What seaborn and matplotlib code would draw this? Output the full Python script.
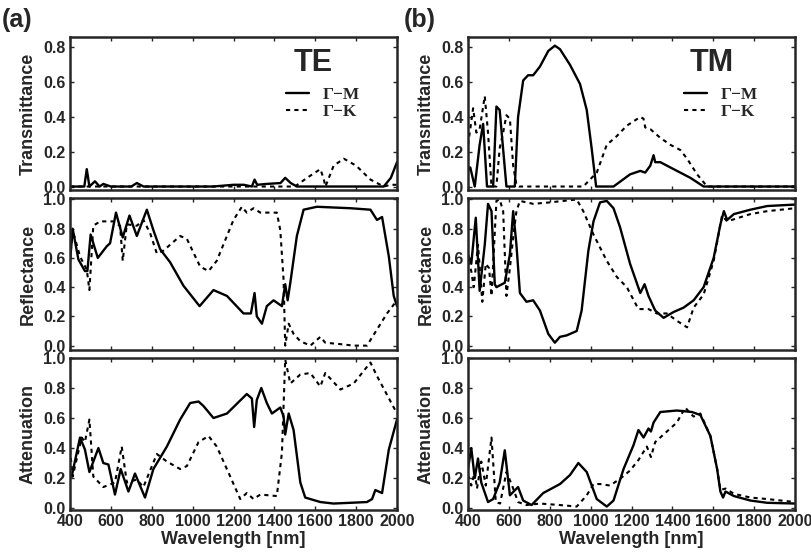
import numpy as np
import pandas as pd
import matplotlib
matplotlib.use("Agg")
import matplotlib.pyplot as plt
import seaborn as sns
from matplotlib.lines import Line2D

# ---------------- data ----------------
# TE, Transmittance
te_T_M_x = [400, 470, 482, 495, 522, 545, 563, 600, 700, 727, 760, 1100, 1200, 1250, 1290, 1303, 1316, 1363, 1430, 1453, 1480, 1510, 1935, 1970, 2000]
te_T_M_y = [0.0, 0.0, 0.10, 0.0, 0.03, 0.0, 0.015, 0.0, 0.0, 0.02, 0.0, 0.0, 0.01, 0.01, 0.0, 0.04, 0.01, 0.015, 0.02, 0.05, 0.02, 0.0, 0.0, 0.05, 0.14]
te_T_K_x = [400, 1500, 1560, 1625, 1640, 1650, 1690, 1740, 1800, 1870, 1935, 1970, 2000]
te_T_K_y = [0.0, 0.0, 0.05, 0.10, 0.05, 0.0, 0.12, 0.16, 0.12, 0.04, 0.0, 0.01, 0.01]

# TE, Reflectance
te_R_M_x = [400, 413, 441, 473, 485, 501, 536, 580, 596, 625, 658, 691, 727, 776, 808, 841, 890, 955, 1034, 1102, 1168, 1249, 1285, 1303, 1314, 1339, 1363, 1396, 1437, 1453, 1465, 1478, 1510, 1543, 1608, 1772, 1870, 1902, 1927, 1960, 1984, 2000]
te_R_M_y = [0.57, 0.80, 0.59, 0.51, 0.51, 0.76, 0.60, 0.68, 0.70, 0.91, 0.74, 0.89, 0.75, 0.93, 0.79, 0.66, 0.57, 0.41, 0.27, 0.38, 0.34, 0.22, 0.22, 0.36, 0.20, 0.15, 0.27, 0.31, 0.27, 0.42, 0.31, 0.43, 0.75, 0.93, 0.95, 0.94, 0.93, 0.86, 0.88, 0.61, 0.34, 0.27]
te_R_K_x = [400, 413, 449, 482, 495, 514, 547, 612, 645, 658, 678, 727, 759, 792, 825, 857, 939, 972, 1037, 1078, 1118, 1200, 1241, 1265, 1298, 1331, 1412, 1429, 1445, 1453, 1470, 1494, 1527, 1576, 1625, 1649, 1723, 1788, 1853, 1902, 1951, 2000]
te_R_K_y = [0.59, 0.79, 0.61, 0.52, 0.38, 0.82, 0.85, 0.85, 0.82, 0.58, 0.83, 0.82, 0.86, 0.77, 0.63, 0.65, 0.75, 0.73, 0.54, 0.51, 0.58, 0.86, 0.95, 0.91, 0.94, 0.91, 0.91, 0.79, 0.45, 0.0, 0.15, 0.08, 0.03, 0.0, 0.06, 0.02, 0.01, 0.0, 0.0, 0.11, 0.22, 0.31]

# TE, Attenuation
te_A_M_x = [400, 408, 449, 473, 495, 539, 563, 588, 620, 648, 686, 718, 767, 808, 874, 939, 988, 1029, 1053, 1102, 1168, 1265, 1290, 1301, 1314, 1336, 1363, 1388, 1429, 1445, 1453, 1470, 1494, 1527, 1551, 1625, 1690, 1853, 1878, 1894, 1927, 1960, 2000]
te_A_M_y = [0.23, 0.21, 0.47, 0.39, 0.24, 0.40, 0.30, 0.29, 0.09, 0.26, 0.11, 0.23, 0.07, 0.26, 0.41, 0.59, 0.70, 0.71, 0.68, 0.60, 0.63, 0.76, 0.73, 0.54, 0.72, 0.80, 0.70, 0.63, 0.67, 0.61, 0.49, 0.63, 0.52, 0.17, 0.07, 0.04, 0.03, 0.04, 0.06, 0.12, 0.10, 0.39, 0.59]
te_A_K_x = [400, 413, 457, 473, 495, 514, 563, 620, 653, 678, 727, 759, 825, 874, 939, 972, 1029, 1078, 1118, 1184, 1233, 1265, 1298, 1331, 1412, 1437, 1453, 1478, 1527, 1576, 1625, 1649, 1723, 1788, 1870, 1902, 2000]
te_A_K_y = [0.39, 0.21, 0.47, 0.44, 0.59, 0.21, 0.14, 0.17, 0.41, 0.17, 0.19, 0.14, 0.36, 0.31, 0.26, 0.28, 0.44, 0.48, 0.41, 0.21, 0.06, 0.10, 0.06, 0.09, 0.08, 0.37, 0.99, 0.83, 0.89, 0.90, 0.81, 0.90, 0.79, 0.83, 0.97, 0.88, 0.63]

# TM, Transmittance
tm_T_M_x = [400, 411, 433, 457, 474, 493, 523, 539, 555, 588, 629, 645, 670, 694, 719, 752, 793, 825, 850, 899, 948, 981, 1005, 1027, 1112, 1193, 1243, 1267, 1292, 1308, 1316, 1341, 1406, 1488, 1553, 2000]
tm_T_M_y = [0.09, 0.11, 0.0, 0.24, 0.36, 0.0, 0.0, 0.46, 0.44, 0.0, 0.0, 0.40, 0.61, 0.64, 0.64, 0.69, 0.78, 0.81, 0.79, 0.70, 0.59, 0.44, 0.22, 0.0, 0.0, 0.07, 0.09, 0.08, 0.12, 0.18, 0.14, 0.14, 0.10, 0.05, 0.0, 0.0]
tm_T_K_x = [400, 411, 425, 441, 457, 482, 498, 515, 539, 555, 572, 588, 605, 621, 637, 650, 964, 997, 1030, 1079, 1128, 1177, 1243, 1259, 1267, 1292, 1341, 1390, 1439, 1472, 1521, 1570, 2000]
tm_T_K_y = [0.24, 0.33, 0.45, 0.31, 0.33, 0.52, 0.31, 0.0, 0.0, 0.22, 0.31, 0.41, 0.39, 0.12, 0.01, 0.0, 0.0, 0.04, 0.08, 0.24, 0.29, 0.35, 0.40, 0.39, 0.34, 0.33, 0.28, 0.24, 0.21, 0.16, 0.07, 0.0, 0.0]

# TM, Reflectance
tm_R_M_x = [400, 416, 438, 457, 482, 498, 515, 531, 539, 580, 605, 621, 637, 654, 686, 719, 752, 793, 825, 850, 883, 932, 956, 989, 1014, 1046, 1079, 1112, 1144, 1193, 1243, 1264, 1283, 1316, 1357, 1406, 1455, 1504, 1553, 1602, 1635, 1652, 1668, 1701, 1782, 1864, 2000]
tm_R_M_y = [0.62, 0.56, 0.875, 0.375, 0.69, 0.97, 0.92, 0.42, 0.40, 0.43, 0.625, 0.92, 0.69, 0.36, 0.30, 0.31, 0.24, 0.08, 0.02, 0.06, 0.07, 0.10, 0.24, 0.65, 0.85, 0.98, 0.99, 0.94, 0.81, 0.56, 0.36, 0.42, 0.34, 0.24, 0.19, 0.23, 0.26, 0.31, 0.40, 0.60, 0.83, 0.92, 0.86, 0.90, 0.93, 0.955, 0.965]
tm_R_K_x = [400, 416, 428, 449, 470, 487, 503, 515, 539, 555, 572, 588, 605, 621, 637, 654, 719, 801, 932, 964, 1014, 1079, 1128, 1177, 1234, 1283, 1324, 1373, 1422, 1472, 1504, 1553, 1602, 1643, 1668, 1782, 1864, 2000]
tm_R_K_y = [0.58, 0.51, 0.40, 0.69, 0.30, 0.56, 0.53, 0.34, 0.99, 1.0, 0.92, 0.34, 0.53, 0.74, 0.92, 0.99, 0.97, 0.98, 1.0, 0.92, 0.76, 0.58, 0.47, 0.40, 0.25, 0.25, 0.22, 0.22, 0.17, 0.125, 0.26, 0.35, 0.58, 0.89, 0.85, 0.90, 0.92, 0.94]

# TM, Attenuation
tm_A_M_x = [400, 416, 433, 449, 465, 498, 523, 555, 580, 605, 645, 670, 711, 768, 850, 899, 940, 981, 1030, 1079, 1112, 1161, 1210, 1234, 1259, 1283, 1295, 1308, 1341, 1422, 1496, 1537, 1586, 1619, 1635, 1648, 1660, 1701, 1782, 1864, 2000]
tm_A_M_y = [0.26, 0.40, 0.20, 0.33, 0.17, 0.04, 0.06, 0.17, 0.385, 0.085, 0.14, 0.05, 0.02, 0.10, 0.16, 0.22, 0.30, 0.24, 0.06, 0.01, 0.05, 0.26, 0.42, 0.52, 0.47, 0.53, 0.51, 0.57, 0.64, 0.65, 0.64, 0.62, 0.48, 0.26, 0.11, 0.07, 0.11, 0.08, 0.05, 0.035, 0.03]
tm_A_K_x = [400, 416, 433, 444, 465, 487, 515, 536, 557, 588, 613, 645, 686, 752, 850, 932, 981, 1014, 1046, 1095, 1144, 1193, 1234, 1275, 1295, 1316, 1373, 1422, 1463, 1488, 1504, 1537, 1586, 1619, 1635, 1660, 1701, 1782, 1864, 2000]
tm_A_K_y = [0.22, 0.15, 0.24, 0.13, 0.31, 0.15, 0.47, 0.04, 0.03, 0.24, 0.16, 0.04, 0.02, 0.03, 0.02, 0.01, 0.085, 0.16, 0.16, 0.15, 0.195, 0.25, 0.32, 0.41, 0.34, 0.44, 0.51, 0.57, 0.67, 0.63, 0.61, 0.63, 0.48, 0.26, 0.12, 0.13, 0.095, 0.07, 0.06, 0.04]

x_ticks = [400, 600, 800, 1000, 1200, 1400, 1600, 1800, 2000]
row_labels = ["Transmittance", "Reflectance", "Attenuation"]
panel_tags = ["(a)", "(b)"]
mode_names = ["TE", "TM"]
legend_labels = ["\u0393\u2212M", "\u0393\u2212K"]
xlabel = "Wavelength [nm]"

# ---------------- style ----------------
sns.set_style("ticks")
plt.rcParams["font.family"] = ["Liberation Sans", "DejaVu Sans"]
plt.rcParams["font.weight"] = "bold"
plt.rcParams["axes.linewidth"] = 1.8

fig = plt.figure(figsize=(8.11, 5.58), dpi=100)

col_x = [70 / 811, 468 / 811]
col_w = 327 / 811
rows_px = [(37, 190), (198, 350), (358, 510)]
ylims = [(-0.02, 0.86), (-0.03, 1.01), (-0.013, 1.0)]
yticks = [[0.0, 0.2, 0.4, 0.6, 0.8], [0.0, 0.2, 0.4, 0.6, 0.8, 1.0], [0.0, 0.2, 0.4, 0.6, 0.8, 1.0]]

series = [
    [(te_T_M_x, te_T_M_y, te_T_K_x, te_T_K_y),
     (te_R_M_x, te_R_M_y, te_R_K_x, te_R_K_y),
     (te_A_M_x, te_A_M_y, te_A_K_x, te_A_K_y)],
    [(tm_T_M_x, tm_T_M_y, tm_T_K_x, tm_T_K_y),
     (tm_R_M_x, tm_R_M_y, tm_R_K_x, tm_R_K_y),
     (tm_A_M_x, tm_A_M_y, tm_A_K_x, tm_A_K_y)],
]

H = 558.0
for c in range(2):
    for r in range(3):
        top, bot = rows_px[r]
        ax = fig.add_axes([col_x[c], 1 - bot / H, col_w, (bot - top) / H])
        mx, my, kx, ky = series[c][r]
        dfm = pd.DataFrame({"wl": mx, "v": my})
        dfk = pd.DataFrame({"wl": kx, "v": ky})
        sns.lineplot(data=dfm, x="wl", y="v", ax=ax, color="black", lw=1.7,
                     estimator=None, sort=False)
        sns.lineplot(data=dfk, x="wl", y="v", ax=ax, color="black", lw=1.5,
                     estimator=None, sort=False, linestyle=(0, (2, 2)))
        ax.set_xlim(400, 2000)
        ax.set_ylim(*ylims[r])
        ax.set_xticks(x_ticks)
        ax.set_yticks(yticks[r])
        ax.set_yticklabels([f"{v:.1f}" for v in yticks[r]], fontsize=11.5, fontweight="bold")
        ax.tick_params(direction="in", top=True, right=True, length=3, width=1, pad=3)
        ax.set_ylabel(row_labels[r], fontsize=13, fontweight="bold", labelpad=5)
        if r == 2:
            ax.set_xticklabels([str(v) for v in x_ticks], fontsize=11.5, fontweight="bold")
            ax.set_xlabel(xlabel, fontsize=13, fontweight="bold", labelpad=1)
        else:
            ax.set_xticklabels([])
            ax.set_xlabel("")
        if r == 0:
            ax.text(0.745, 0.83, mode_names[c], transform=ax.transAxes, fontsize=22,
                    fontweight="bold", ha="center", va="center")
            handles = [Line2D([], [], color="black", lw=1.7),
                       Line2D([], [], color="black", lw=1.5, linestyle=(0, (2, 2)))]
            ax.legend(handles, legend_labels, loc="upper left", bbox_to_anchor=(0.64, 0.72),
                      frameon=False, handlelength=1.3, handletextpad=0.8, labelspacing=0.05,
                      borderaxespad=0, prop={"family": "Liberation Serif", "weight": "bold", "size": 12.5})
            fig.text(col_x[c] - 68 / 811 + (0 if c == 0 else 4 / 811), 1 - 20 / H, panel_tags[c],
                     fontsize=18, fontweight="bold", ha="left", va="center")

fig.savefig("out.png", dpi=100)
